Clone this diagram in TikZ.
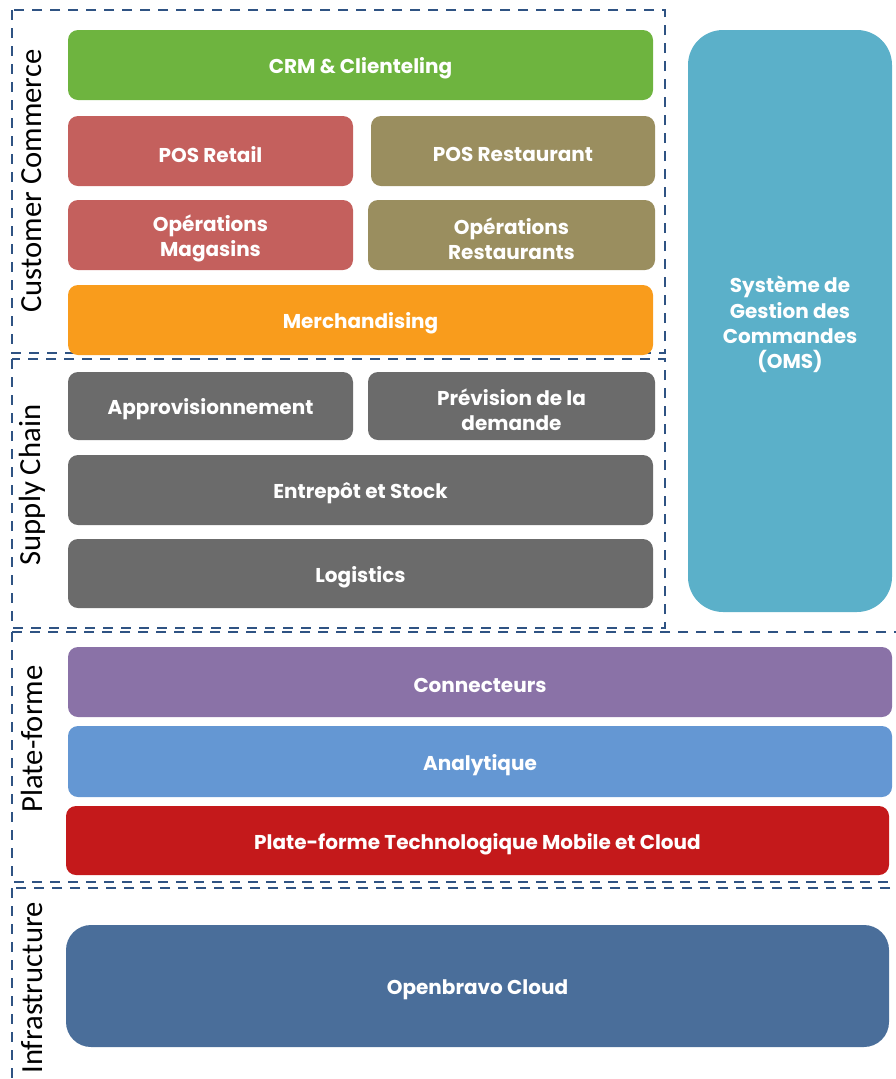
\documentclass[tikz,border=0pt]{standalone}
\usepackage{fontspec}
\setmainfont{Poppins}
\newfontfamily\sidefont{Carlito}
\definecolor{dashblue}{HTML}{2F5383}
\definecolor{cgreen}{HTML}{6EB43F}
\definecolor{cred}{HTML}{C4605D}
\definecolor{ckhaki}{HTML}{9A8E5F}
\definecolor{corange}{HTML}{F99C1C}
\definecolor{cgray}{HTML}{6B6B6B}
\definecolor{coms}{HTML}{5BB0C9}
\definecolor{cpurple}{HTML}{8A72A7}
\definecolor{clblue}{HTML}{6497D3}
\definecolor{cdred}{HTML}{C4191B}
\definecolor{cdblue}{HTML}{4A6E9A}
\newcommand\blk[8][10]{%
  \node[blkstyle, fill=#7, rounded corners=#1*0.75pt,
    minimum width={(#4-#2)*0.75pt}, minimum height={(#5-#3)*0.75pt}]
    (#6) at ({(#2+#4)/2},{(#3+#5)/2}) {};
  \node[blktext] (#6-t) at ([yshift=-2.6pt]#6.center) {#8};}
\begin{document}
\begin{tikzpicture}[x=0.75pt,y=-0.75pt,
  blkstyle/.style={draw=none, inner sep=0pt},
  blktext/.style={inner sep=0pt, text=white, align=center,
    font=\fontsize{15}{19}\selectfont\bfseries},
  zone/.style={draw=dashblue, line width=2.1pt, dash pattern=on 7.5pt off 6pt},
  sidelabel/.style={rotate=90, font=\sidefont\fontsize{23}{28}\selectfont, text=black, inner sep=0pt}]
\useasboundingbox (0,0) rectangle (896,1079);
\clip (0,0) rectangle (896,1079);
% zones
\draw[zone] (12,10) rectangle (665,353);
\draw[zone] (12,359) rectangle (665,628);
\draw[zone] (12,632) rectangle (910,882);
\draw[zone] (12,888) rectangle (910,1095);
% side labels
\node[sidelabel] (lcc) at (32,181) {Customer Commerce};
\node[sidelabel] (lsc) at (32,485) {Supply Chain};
\node[sidelabel] (lpf) at (32,739) {Plate-forme};
\node[sidelabel] (lin) at (32,988) {Infrastructure};
% customer commerce
\blk{68}{30}{653}{100}{crm}{cgreen}{CRM \& Clienteling}
\blk{68}{116}{353}{186}{posr}{cred}{POS Retail}
\blk{371}{116}{655}{186}{posrest}{ckhaki}{POS Restaurant}
\blk{68}{200}{353}{270}{opmag}{cred}{Opérations\\Magasins}
\blk{368}{200}{655}{270}{oprest}{ckhaki}{Opérations\\Restaurants}
\blk{68}{285}{653}{355}{merch}{corange}{Merchandising}
% supply chain
\blk{68}{372}{353}{440}{appro}{cgray}{Approvisionnement}
\blk{368}{372}{655}{440}{prev}{cgray}{Prévision de la\\demande}
\blk{68}{455}{653}{525}{entre}{cgray}{Entrepôt et Stock}
\blk{68}{539}{653}{608}{logi}{cgray}{Logistics}
% OMS
\blk[35]{688}{30}{892}{612}{oms}{coms}{Système de\\Gestion des\\Commandes\\(OMS)}
% plate-forme
\blk{68}{647}{892}{717}{conn}{cpurple}{Connecteurs}
\blk{68}{726}{892}{797}{ana}{clblue}{Analytique}
\blk{66}{806}{889}{875}{ptech}{cdred}{Plate-forme Technologique Mobile et Cloud}
% infrastructure
\blk[25]{66}{925}{889}{1047}{cloud}{cdblue}{Openbravo Cloud}
\end{tikzpicture}
\end{document}
